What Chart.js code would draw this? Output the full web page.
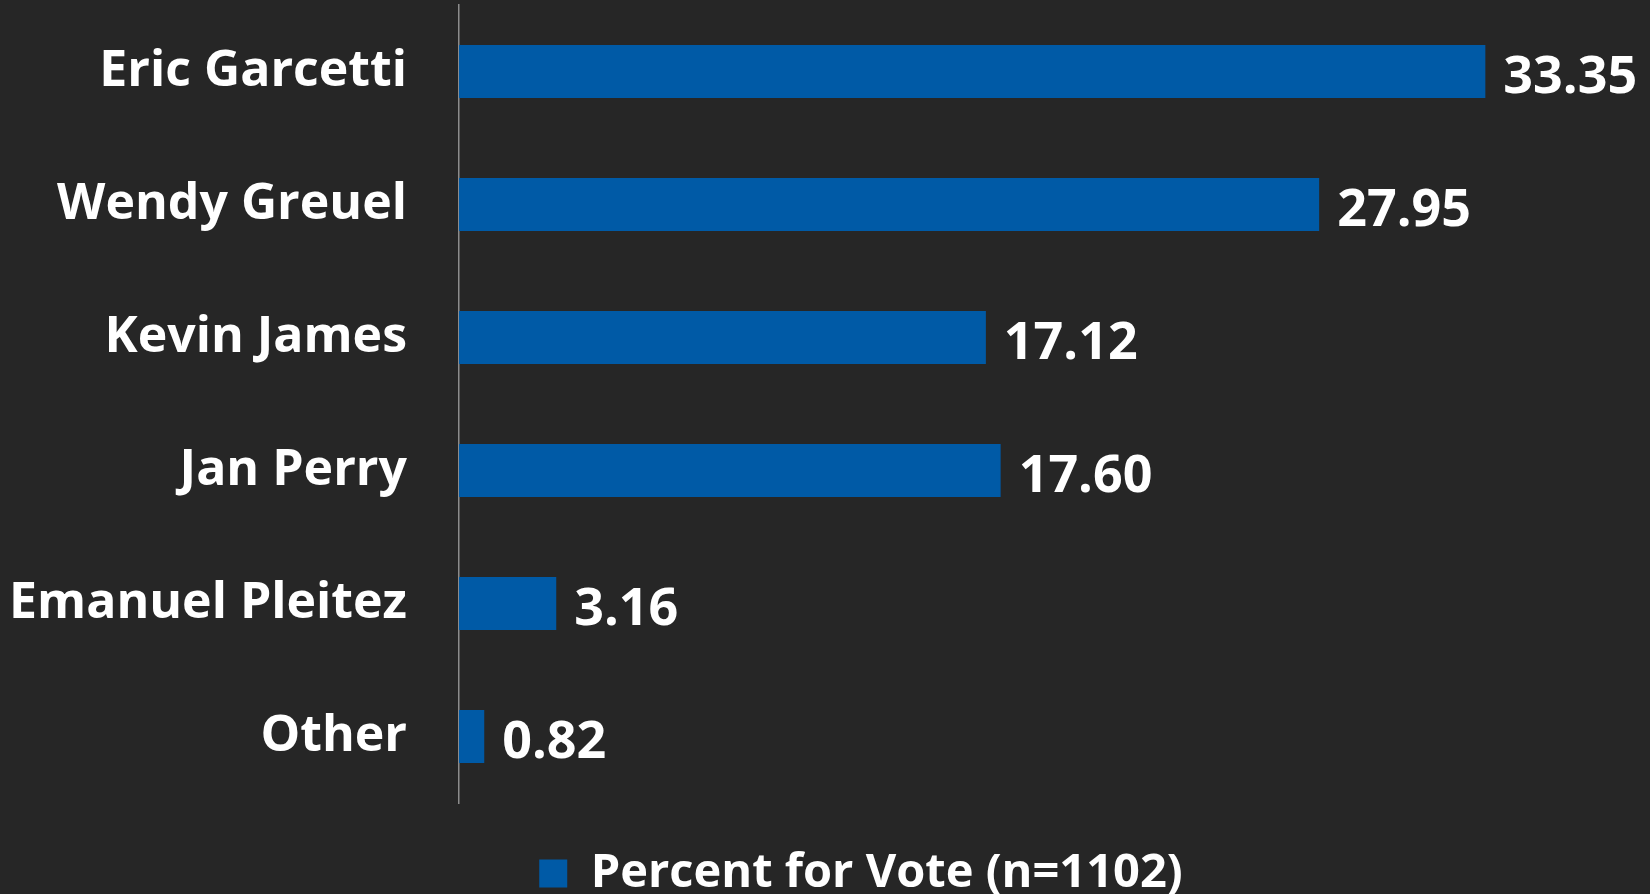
<!DOCTYPE html>
<html>
<head>
<meta charset="utf-8">
<script src="https://cdn.jsdelivr.net/npm/chart.js@4/dist/chart.umd.min.js"></script>
<style>
  html, body { margin: 0; padding: 0; background: #262626; overflow: hidden; height: 894px; }
  #wrap { width: 1650px; height: 907px; }
</style>
</head>
<body>
<div id="wrap"><canvas id="grafico"></canvas></div>
<script>
var candidatos = ['Eric Garcetti', 'Wendy Greuel', 'Kevin James', 'Jan Perry', 'Emanuel Pleitez', 'Other'];
var percentuais = [33.35, 27.95, 17.12, 17.60, 3.16, 0.82];
var legenda = 'Percent for Vote (n=1102)';

var fonte = "'Open Sans', 'DejaVu Sans', sans-serif";

// escreve o valor ao lado de cada barra
var rotulosValor = {
    id: 'rotulosValor',
    afterLayout: function (chart) {
        // legenda um pouco deslocada para a direita, como no original
        chart.legend.left += 36;
        chart.legend.right += 36;
    },
    afterDatasetsDraw: function (chart) {
        var ctx = chart.ctx;
        var meta = chart.getDatasetMeta(0);
        ctx.save();
        ctx.fillStyle = '#ffffff';
        ctx.font = 'bold 52px ' + fonte;
        ctx.textAlign = 'left';
        ctx.textBaseline = 'alphabetic';
        meta.data.forEach(function (barra, i) {
            ctx.fillText(percentuais[i].toFixed(2), barra.x + 18, barra.y + 21);
        });
        ctx.restore();
    }
};

new Chart(document.getElementById('grafico'), {
    type: 'bar',
    data: {
        labels: candidatos,
        datasets: [{
            label: legenda,
            data: percentuais,
            backgroundColor: '#005aa6',
            barPercentage: 0.4,
            categoryPercentage: 1
        }]
    },
    options: {
        indexAxis: 'y',
        responsive: true,
        maintainAspectRatio: false,
        animation: false,
        layout: { padding: { top: 5, left: 0, right: 0, bottom: 0 } },
        scales: {
            x: {
                min: 0,
                max: 38.7,
                ticks: { display: false },
                grid: { display: false, drawTicks: false },
                border: { display: false },
                afterFit: function (s) { s.height = 37; }
            },
            y: {
                ticks: {
                    color: '#ffffff',
                    padding: 52,
                    font: { family: fonte, size: 50, weight: 'bold' }
                },
                grid: { display: false, drawTicks: false },
                border: { display: true, color: '#8c8c8c', width: 1.5 },
                afterFit: function (s) {
                    s.width = 459;
                    s.paddingTop = 0;
                    s.paddingBottom = 0;
                }
            }
        },
        plugins: {
            legend: {
                position: 'bottom',
                labels: {
                    color: '#ffffff',
                    boxWidth: 28,
                    boxHeight: 28,
                    padding: 10,
                    font: { family: fonte, size: 47, weight: 'bold' }
                }
            },
            tooltip: { enabled: false }
        }
    },
    plugins: [rotulosValor]
});
</script>
</body>
</html>
